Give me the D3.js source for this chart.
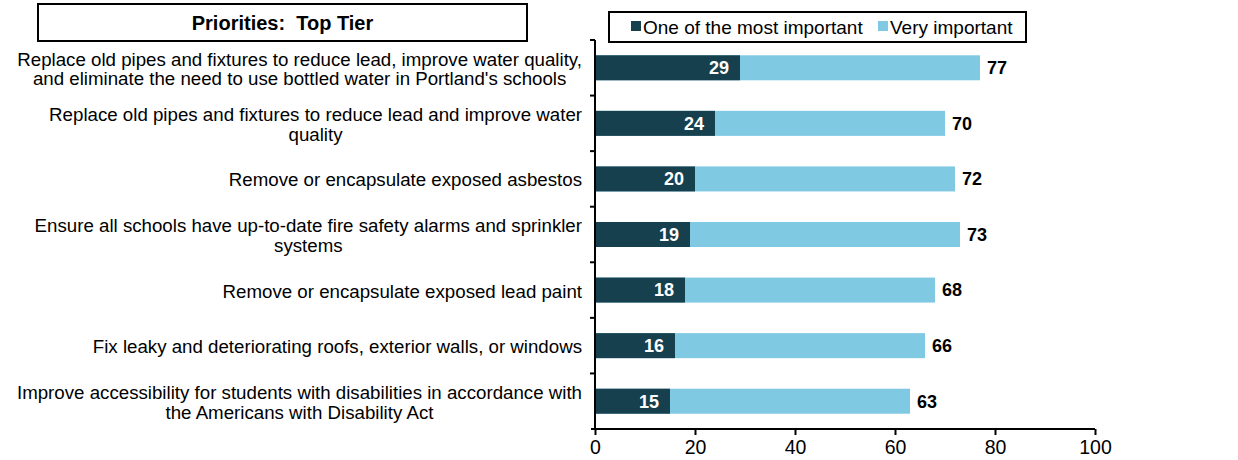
<!DOCTYPE html>
<html>
<head>
<meta charset="utf-8">
<script src="https://cdn.jsdelivr.net/npm/d3@7"></script>
<style>
  body { margin: 0; background: #fff; }
  svg { display: block; font-family: "Liberation Sans", Arial, sans-serif; }
</style>
</head>
<body>
<div id="chart"></div>
<script>
// chart data
const categories = [
    ['Replace old pipes and fixtures to reduce lead, improve water quality,', "and eliminate the need to use bottled water in Portland's schools"],
    ['Replace old pipes and fixtures to reduce lead and improve water', 'quality'],
    ['Remove or encapsulate exposed asbestos'],
    ['Ensure all schools have up-to-date fire safety alarms and sprinkler', 'systems'],
    ['Remove or encapsulate exposed lead paint'],
    ['Fix leaky and deteriorating roofs, exterior walls, or windows'],
    ['Improve accessibility for students with disabilities in accordance with', 'the Americans with Disability Act'],
];
const mostImportant = [29, 24, 20, 19, 18, 16, 15];
const totalImportant = [77, 70, 72, 73, 68, 66, 63];
const seriesNames = ['One of the most important', 'Very important'];
const xTicks = [0, 20, 40, 60, 80, 100];
const panelTitle = 'Priorities:  Top Tier';

const colors = ['#17404F', '#7FC9E3'];

const width = 1238;
const height = 460;
const area = {left: 595, right: 1095, top: 40, bottom: 429};

const rows = categories.map((lines, i) => ({
    lines,
    most: mostImportant[i],
    total: totalImportant[i],
    idx: i,
}));

const svg = d3.select('#chart')
    .append('svg')
    .attr('width', width)
    .attr('height', height);

const xScale = d3.scaleLinear().domain([0, 100]).range([area.left, area.right]);
const yScale = d3.scaleBand()
    .domain(rows.map((d) => d.idx))
    .range([area.top, area.bottom])
    .paddingInner(0.55)
    .paddingOuter(0.275);

// bars: light (total) first, then dark on top
const bars = svg.append('g').attr('class', 'bars');
bars.selectAll('rect.total')
    .data(rows)
    .join('rect')
    .attr('class', 'total')
    .attr('x', xScale(0))
    .attr('y', (d) => yScale(d.idx))
    .attr('width', (d) => xScale(d.total) - xScale(0))
    .attr('height', yScale.bandwidth())
    .attr('fill', colors[1]);

bars.selectAll('rect.most')
    .data(rows)
    .join('rect')
    .attr('class', 'most')
    .attr('x', xScale(0))
    .attr('y', (d) => yScale(d.idx))
    .attr('width', (d) => xScale(d.most) - xScale(0))
    .attr('height', yScale.bandwidth())
    .attr('fill', colors[0]);

// value labels
const mid = (d) => yScale(d.idx) + yScale.bandwidth() / 2;
bars.selectAll('text.most')
    .data(rows)
    .join('text')
    .attr('class', 'most')
    .attr('x', (d) => xScale(d.most) - 11)
    .attr('y', mid)
    .attr('dy', '0.35em')
    .attr('text-anchor', 'end')
    .attr('fill', '#fff')
    .attr('font-weight', 'bold')
    .attr('font-size', 18)
    .text((d) => d.most);

bars.selectAll('text.total')
    .data(rows)
    .join('text')
    .attr('class', 'total')
    .attr('x', (d) => xScale(d.total) + 7)
    .attr('y', mid)
    .attr('dy', '0.35em')
    .attr('fill', '#000')
    .attr('font-weight', 'bold')
    .attr('font-size', 18)
    .text((d) => d.total);

// x axis
const xAxis = svg.append('g')
    .attr('transform', `translate(0,${area.bottom})`)
    .call(d3.axisBottom(xScale).tickValues(xTicks).tickSize(6).tickSizeOuter(0).tickPadding(5));
xAxis.select('.domain').attr('stroke', '#000').attr('stroke-width', 2)
    .attr('d', `M${area.left - 4},0H${area.right}`);
xAxis.selectAll('.tick line').attr('stroke', '#000').attr('stroke-width', 2);
xAxis.selectAll('.tick text')
    .attr('font-family', '"Liberation Sans", Arial, sans-serif')
    .attr('font-size', 19.5)
    .attr('fill', '#000');

// y axis line with ticks between categories
const yAxis = svg.append('g');
yAxis.append('line')
    .attr('x1', area.left).attr('x2', area.left)
    .attr('y1', area.top).attr('y2', area.bottom)
    .attr('stroke', '#000').attr('stroke-width', 2);
const boundaries = d3.range(rows.length).map((i) => area.top + i * (area.bottom - area.top) / rows.length);
yAxis.selectAll('line.tick')
    .data(boundaries)
    .join('line')
    .attr('class', 'tick')
    .attr('x1', area.left - 5).attr('x2', area.left)
    .attr('y1', (d) => d).attr('y2', (d) => d)
    .attr('stroke', '#000').attr('stroke-width', 2);

// category labels: block right-aligned to axis, lines centred inside block
const labelRight = 582;
const lineH = 19.5;
const labels = svg.append('g').attr('class', 'labels')
    .attr('font-size', 18.7).attr('fill', '#000');
rows.forEach((d) => {
    const g = labels.append('g');
    const texts = d.lines.map((ln) => g.append('text').text(ln));
    const widths = texts.map((t) => t.node().getComputedTextLength());
    const blockW = d3.max(widths);
    const cx = labelRight - blockW / 2;
    const cy = mid(d) + 1;
    const y0 = cy - (d.lines.length - 1) * lineH / 2;
    texts.forEach((t, j) => {
        t.attr('x', cx)
            .attr('y', y0 + j * lineH)
            .attr('dy', '0.35em')
            .attr('text-anchor', 'middle');
    });
});

// panel title box
const titleBox = svg.append('g');
titleBox.append('rect')
    .attr('x', 38).attr('y', 4)
    .attr('width', 489).attr('height', 37)
    .attr('fill', '#fff').attr('stroke', '#000').attr('stroke-width', 2);
titleBox.append('text')
    .attr('x', 282.5).attr('y', 22.5)
    .attr('dy', '0.35em')
    .attr('text-anchor', 'middle')
    .attr('font-weight', 'bold')
    .attr('font-size', 20)
    .style('white-space', 'pre')
    .text(panelTitle);

// legend
const legend = svg.append('g');
legend.append('rect')
    .attr('x', 609).attr('y', 12)
    .attr('width', 417).attr('height', 30)
    .attr('fill', '#fff').attr('stroke', '#000').attr('stroke-width', 2);
const legendX = [631, 878];
seriesNames.forEach((name, i) => {
    legend.append('rect')
        .attr('x', legendX[i]).attr('y', 21)
        .attr('width', 10).attr('height', 10)
        .attr('fill', colors[i]);
    legend.append('text')
        .attr('x', legendX[i] + 12).attr('y', 27)
        .attr('dy', '0.35em')
        .attr('font-size', 19)
        .text(name);
});
</script>
</body>
</html>
